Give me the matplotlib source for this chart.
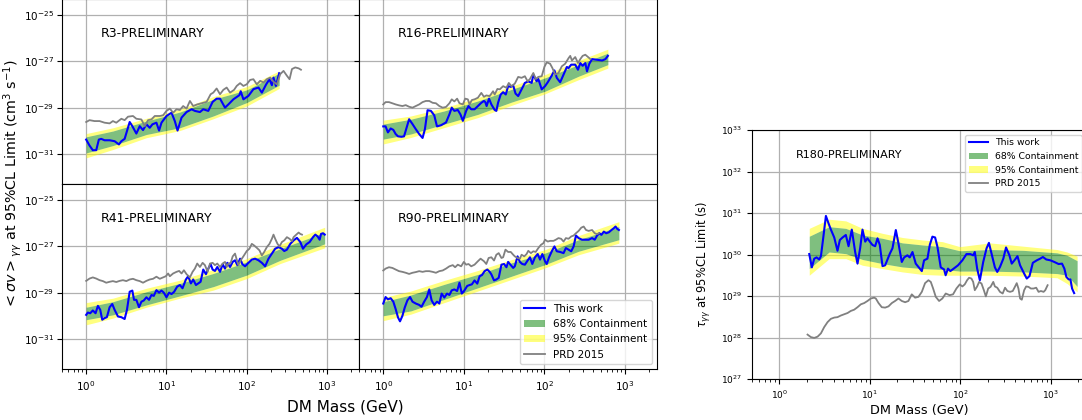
import numpy as np
import matplotlib
matplotlib.use("Agg")
import matplotlib.pyplot as plt
from matplotlib.ticker import LogLocator, NullLocator, NullFormatter

# all values are log10: mass in GeV, limit in cm^3 s^-1 (left) or s (right)

# ---- R3 ----
r3_this_logm = [0, .042, .083, .125, .158, .188, .229, .292, .354, .408, .438, .479, .542, .575, .625, .667,
                .708, .75, .792, .825, .875, .908, .938, 1.0, 1.063, 1.104, 1.138, 1.188, 1.25, 1.313, 1.354,
                1.417, 1.458, 1.521, 1.575, 1.625, 1.667, 1.729, 1.771, 1.833, 1.908, 1.925, 1.958, 2.021,
                2.083, 2.146, 2.188, 2.242, 2.283, 2.313, 2.333, 2.363, 2.404]
r3_this_logy = [-30.38, -30.64, -30.84, -30.84, -30.38, -30.35, -30.41, -30.41, -30.45, -30.59, -30.45, -30.35,
                -29.62, -29.80, -30.12, -29.80, -29.97, -29.72, -29.87, -29.72, -29.65, -29.99, -29.65, -29.36,
                -29.22, -29.58, -29.99, -29.43, -29.19, -29.07, -29.14, -29.19, -29.07, -29.14, -28.75, -28.61,
                -28.61, -29.00, -28.86, -28.64, -28.46, -28.29, -28.64, -28.49, -28.20, -28.13, -28.35, -27.99,
                -27.77, -28.03, -27.70, -28.06, -27.51]
r3_prd_logm = [0, .042, .104, .167, .229, .292, .333, .375, .438, .479, .521, .583, .625, .688, .729, .771, .813,
               .854, .917, .958, 1.0, 1.042, 1.083, 1.125, 1.167, 1.208, 1.25, 1.292, 1.333, 1.383, 1.438, 1.5,
               1.55, 1.583, 1.625, 1.667, 1.708, 1.75, 1.792, 1.842, 1.875, 1.917, 1.958, 2.0, 2.042, 2.083,
               2.125, 2.167, 2.208, 2.25, 2.292, 2.333, 2.375, 2.417, 2.458, 2.5, 2.533, 2.563, 2.604, 2.646, 2.675]
r3_prd_logy = [-29.62, -29.54, -29.58, -29.58, -29.65, -29.68, -29.58, -29.65, -29.48, -29.54, -29.39, -29.36,
               -29.48, -29.51, -29.80, -29.54, -29.51, -29.36, -29.36, -29.33, -29.14, -29.04, -29.22, -29.07,
               -29.10, -28.93, -29.04, -28.71, -28.93, -28.86, -28.81, -28.75, -28.42, -28.35, -28.17, -28.42,
               -28.23, -28.13, -28.35, -28.23, -28.06, -27.94, -28.06, -27.99, -27.80, -27.77, -27.99, -27.84,
               -27.91, -27.77, -27.70, -27.88, -27.99, -27.55, -27.41, -27.62, -27.77, -27.33, -27.26, -27.30, -27.36]
r3_band_logm = [0, .333, .75, 1.167, 1.583, 2.0, 2.404]
r3_lo68 = [-30.96, -30.64, -30.16, -29.87, -29.36, -28.78, -28.03]
r3_hi68 = [-30.26, -30.01, -29.58, -29.19, -28.64, -28.23, -27.51]
r3_lo95 = [-31.17, -30.81, -30.30, -29.99, -29.48, -28.93, -28.17]
r3_hi95 = [-30.12, -29.87, -29.46, -29.07, -28.52, -28.09, -27.41]

# ---- R16 ----
r16_this_logm = [0, .029, .058, .092, .125, .154, .183, .225, .258, .321, .363, .404, .446, .488, .517, .55, .592,
                 .633, .667, .717, .779, .821, .85, .883, .925, .958, .988, 1.029, 1.058, 1.092, 1.133, 1.175,
                 1.217, 1.25, 1.267, 1.283, 1.313, 1.342, 1.383, 1.404, 1.425, 1.458, 1.488, 1.521, 1.55, 1.583,
                 1.613, 1.642, 1.675, 1.717, 1.758, 1.8, 1.842, 1.863, 1.904, 1.925, 1.967, 2.008, 2.042, 2.092,
                 2.125, 2.154, 2.196, 2.238, 2.279, 2.3, 2.333, 2.383, 2.417, 2.446, 2.475, 2.508, 2.529, 2.558,
                 2.592, 2.654, 2.717, 2.758, 2.788]
r16_this_logy = [-29.81, -29.81, -30.07, -29.90, -29.96, -30.14, -30.24, -30.26, -30.24, -29.50, -29.71, -29.93,
                 -30.14, -30.31, -29.93, -29.11, -29.14, -29.33, -29.81, -29.76, -29.64, -29.29, -29.00, -29.14,
                 -29.10, -29.29, -29.57, -29.14, -28.93, -29.07, -29.07, -28.93, -28.79, -28.71, -28.76, -28.93,
                 -28.61, -28.86, -29.10, -29.14, -28.79, -28.43, -28.33, -28.43, -28.07, -28.10, -28.04, -28.39,
                 -28.50, -28.21, -27.93, -27.86, -27.93, -27.57, -27.86, -27.76, -28.21, -28.07, -27.90, -27.61,
                 -27.39, -27.71, -27.90, -27.57, -27.24, -27.29, -27.14, -27.14, -27.36, -27.07, -27.19, -27.07,
                 -27.43, -27.10, -26.90, -26.93, -26.96, -26.90, -26.76]
r16_prd_logm = [0, .029, .071, .113, .154, .196, .238, .279, .321, .363, .404, .446, .488, .529, .571, .613, .654,
                .696, .738, .779, .821, .85, .883, .917, .946, .988, 1.017, 1.05, 1.071, 1.1, 1.133, 1.175, 1.217,
                1.25, 1.279, 1.321, 1.363, 1.383, 1.417, 1.446, 1.488, 1.529, 1.558, 1.592, 1.633, 1.675, 1.717,
                1.758, 1.792, 1.821, 1.863, 1.892, 1.925, 1.967, 2.0, 2.029, 2.071, 2.1, 2.133, 2.175, 2.217,
                2.258, 2.3, 2.321, 2.342, 2.383, 2.417, 2.446, 2.475, 2.508, 2.542, 2.571]
r16_prd_logy = [-28.86, -28.76, -28.76, -28.81, -28.86, -28.90, -28.93, -28.89, -28.96, -29.00, -28.93, -28.86,
                -28.76, -28.71, -28.71, -28.79, -28.81, -28.93, -29.00, -28.97, -28.81, -28.64, -28.73, -28.61,
                -28.81, -28.86, -28.61, -28.64, -28.86, -28.67, -28.64, -28.57, -28.36, -28.53, -28.47, -28.50,
                -28.29, -28.43, -28.19, -28.21, -28.07, -28.14, -27.93, -28.07, -27.96, -27.67, -27.71, -27.64,
                -27.86, -27.76, -27.50, -27.76, -27.67, -27.64, -27.24, -27.04, -27.10, -27.29, -27.57, -27.50,
                -27.21, -27.10, -26.86, -26.76, -26.96, -26.81, -27.07, -26.90, -26.76, -26.71, -26.81, -26.90]
r16_band_logm = [0, .342, .758, 1.175, 1.592, 2.008, 2.425, 2.788]
r16_lo68 = [-30.36, -30.14, -29.71, -29.29, -28.76, -28.29, -27.64, -27.14]
r16_hi68 = [-29.71, -29.50, -29.14, -28.71, -28.21, -27.71, -27.14, -26.64]
r16_lo95 = [-30.57, -30.29, -29.86, -29.43, -28.90, -28.40, -27.79, -27.29]
r16_hi95 = [-29.54, -29.36, -29.00, -28.57, -28.07, -27.57, -26.96, -26.47]

# ---- R41 ----
r41_this_logm = [0, .021, .05, .083, .117, .146, .175, .2, .229, .258, .292, .325, .354, .396, .438, .479, .508,
                 .542, .575, .596, .625, .658, .688, .717, .75, .783, .813, .842, .875, .908, .938, .967, 1.0,
                 1.033, 1.063, 1.096, 1.133, 1.167, 1.2, 1.242, 1.271, 1.304, 1.333, 1.367, 1.396, 1.425, 1.458,
                 1.492, 1.521, 1.55, 1.575, 1.604, 1.633, 1.667, 1.7, 1.729, 1.758, 1.792, 1.825, 1.854, 1.883,
                 1.917, 1.946, 1.979, 2.021, 2.063, 2.104, 2.146, 2.188, 2.229, 2.271, 2.313, 2.354, 2.396, 2.438,
                 2.467, 2.5, 2.542, 2.583, 2.625, 2.667, 2.7, 2.742, 2.783, 2.825, 2.854, 2.883, 2.908, 2.925,
                 2.95, 2.971]
r41_this_logy = [-29.96, -29.86, -29.89, -29.77, -29.89, -29.57, -29.74, -30.17, -30.10, -30.06, -29.63, -29.49,
                 -29.74, -30.03, -30.06, -30.14, -29.74, -28.96, -28.91, -29.31, -29.31, -29.63, -29.39, -29.34,
                 -29.20, -29.31, -29.10, -29.14, -28.89, -29.00, -28.91, -29.00, -29.20, -29.00, -29.06, -28.96,
                 -28.74, -28.67, -28.81, -28.43, -28.29, -28.60, -28.43, -28.67, -28.60, -28.53, -28.00, -28.20,
                 -27.96, -27.77, -28.00, -28.06, -27.89, -28.10, -27.77, -27.96, -27.71, -27.89, -27.67, -27.60,
                 -27.81, -27.53, -27.77, -27.86, -27.71, -27.57, -27.53, -27.60, -27.71, -27.86, -27.53, -27.31,
                 -27.10, -27.03, -27.10, -27.20, -27.14, -26.89, -26.74, -26.63, -26.81, -27.10, -26.91, -26.81,
                 -26.60, -26.49, -26.57, -26.71, -26.46, -26.43, -26.49]
r41_prd_logm = [0, .042, .083, .125, .167, .208, .25, .292, .333, .375, .417, .458, .5, .542, .583, .625, .667,
                .708, .75, .792, .833, .875, .917, .958, .992, 1.021, 1.042, 1.083, 1.125, 1.158, 1.188, 1.217,
                1.25, 1.292, 1.325, 1.354, 1.383, 1.417, 1.45, 1.479, 1.513, 1.542, 1.575, 1.604, 1.633, 1.667,
                1.7, 1.729, 1.75, 1.771, 1.8, 1.825, 1.854, 1.875, 1.896, 1.925, 1.958, 2.0, 2.033, 2.063, 2.092,
                2.125, 2.158, 2.188, 2.217, 2.25, 2.283, 2.313, 2.333, 2.354, 2.383, 2.408, 2.438, 2.467, 2.5,
                2.533, 2.563, 2.583, 2.617, 2.646, 2.667, 2.688]
r41_prd_logy = [-28.49, -28.39, -28.34, -28.39, -28.46, -28.50, -28.57, -28.53, -28.50, -28.54, -28.49, -28.46,
                -28.50, -28.43, -28.40, -28.46, -28.50, -28.57, -28.49, -28.43, -28.40, -28.31, -28.40, -28.34,
                -28.29, -28.17, -28.29, -28.17, -28.10, -28.06, -28.17, -28.03, -28.20, -28.34, -28.10, -27.96,
                -27.74, -27.89, -27.71, -27.81, -28.10, -27.74, -27.71, -27.81, -27.74, -27.89, -27.74, -27.67,
                -27.89, -27.74, -27.71, -27.43, -27.31, -27.57, -27.81, -27.60, -27.43, -27.20, -27.10, -26.89,
                -26.96, -27.06, -27.17, -27.39, -27.24, -27.03, -26.89, -26.67, -26.49, -26.67, -26.89, -27.00,
                -26.81, -26.74, -26.60, -26.67, -26.77, -26.60, -26.49, -26.40, -26.46, -26.49]
r41_band_logm = [0, .333, .75, 1.167, 1.583, 2.0, 2.417, 2.971]
r41_lo68 = [-30.17, -29.96, -29.53, -29.14, -28.74, -28.24, -27.60, -26.89]
r41_hi68 = [-29.63, -29.39, -28.96, -28.60, -28.17, -27.67, -27.10, -26.39]
r41_lo95 = [-30.39, -30.10, -29.63, -29.24, -28.89, -28.39, -27.74, -27.06]
r41_hi95 = [-29.43, -29.24, -28.81, -28.46, -28.00, -27.53, -26.91, -26.17]

# ---- R90 ----
r90_this_logm = [0, .029, .058, .092, .125, .154, .183, .208, .238, .267, .3, .333, .363, .404, .446, .475, .508,
                 .542, .571, .6, .633, .667, .696, .725, .758, .792, .821, .85, .883, .917, .946, .975, 1.008,
                 1.042, 1.071, 1.1, 1.133, 1.167, 1.196, 1.225, 1.258, 1.292, 1.321, 1.342, 1.375, 1.404, 1.433,
                 1.467, 1.5, 1.529, 1.55, 1.583, 1.613, 1.633, 1.667, 1.696, 1.725, 1.758, 1.792, 1.821, 1.85,
                 1.883, 1.917, 1.946, 1.975, 2.008, 2.029, 2.058, 2.092, 2.125, 2.154, 2.196, 2.238, 2.267, 2.3,
                 2.333, 2.363, 2.392, 2.425, 2.467, 2.508, 2.55, 2.592, 2.625, 2.654, 2.683, 2.708, 2.738, 2.767,
                 2.8, 2.833, 2.863, 2.883, 2.904, 2.925]
r90_this_logy = [-29.47, -29.19, -29.29, -29.24, -29.39, -29.71, -30.07, -30.24, -30.00, -29.64, -29.33, -29.19,
                 -29.39, -29.47, -29.53, -29.61, -29.39, -29.19, -28.86, -29.33, -29.53, -29.39, -29.47, -29.04,
                 -29.21, -29.04, -29.10, -28.90, -28.86, -28.93, -28.57, -29.04, -28.90, -28.71, -28.67, -28.64,
                 -28.47, -28.61, -28.29, -28.24, -28.07, -28.00, -28.10, -28.21, -28.47, -28.43, -28.36, -27.79,
                 -27.76, -27.90, -27.67, -27.81, -27.93, -27.86, -27.43, -27.67, -27.76, -27.79, -27.61, -27.47,
                 -27.76, -27.47, -27.33, -27.57, -27.33, -27.64, -27.76, -27.47, -27.21, -27.00, -27.21, -27.24,
                 -27.29, -27.07, -27.14, -27.21, -27.00, -26.53, -26.64, -26.71, -26.71, -26.71, -26.64, -26.71,
                 -26.53, -26.43, -26.50, -26.36, -26.43, -26.39, -26.29, -26.21, -26.14, -26.24, -26.29]
r90_prd_logm = [0, .029, .071, .113, .154, .196, .238, .279, .321, .363, .404, .446, .488, .529, .571, .613, .654,
                .696, .738, .779, .821, .863, .892, .925, .967, 1.0, 1.029, 1.058, 1.092, 1.133, 1.175, 1.208,
                1.25, 1.279, 1.308, 1.342, 1.375, 1.404, 1.433, 1.467, 1.488, 1.517, 1.55, 1.583, 1.613, 1.633,
                1.667, 1.696, 1.717, 1.75, 1.779, 1.8, 1.833, 1.863, 1.892, 1.925, 1.958, 1.988, 2.008, 2.042,
                2.071, 2.113, 2.142, 2.175, 2.208, 2.238, 2.267, 2.3, 2.333, 2.363, 2.392, 2.425, 2.458, 2.488,
                2.517, 2.55, 2.592, 2.625, 2.654, 2.675]
r90_prd_logy = [-28.04, -27.96, -27.90, -27.93, -28.00, -28.07, -28.10, -28.14, -28.19, -28.14, -28.11, -28.07,
                -28.10, -28.07, -28.07, -28.10, -28.14, -28.07, -28.04, -27.96, -27.86, -27.81, -27.90, -27.79,
                -27.86, -27.67, -27.79, -27.76, -27.86, -27.79, -27.64, -27.53, -27.64, -27.76, -27.50, -27.47,
                -27.61, -27.36, -27.29, -27.50, -27.47, -27.14, -27.24, -27.24, -27.36, -27.43, -27.50, -27.53,
                -27.36, -27.43, -27.33, -27.19, -27.29, -27.21, -27.24, -27.07, -26.93, -26.86, -26.71, -26.79,
                -26.76, -26.76, -26.71, -26.64, -26.67, -26.79, -26.64, -26.67, -26.57, -26.53, -26.43, -26.33,
                -26.19, -26.14, -26.29, -26.33, -26.29, -26.43, -26.47, -26.43]
r90_band_logm = [0, .342, .758, 1.175, 1.592, 2.008, 2.425, 2.925]
r90_lo68 = [-30.00, -29.79, -29.29, -28.79, -28.29, -27.79, -27.21, -26.71]
r90_hi68 = [-29.39, -29.10, -28.64, -28.21, -27.71, -27.29, -26.71, -26.14]
r90_lo95 = [-30.21, -29.93, -29.43, -28.93, -28.43, -27.93, -27.36, -26.86]
r90_hi95 = [-29.21, -28.93, -28.47, -28.04, -27.57, -27.14, -26.53, -25.93]

# ---- R180 (lifetime, s) ----
r180_this_logm = [.331, .360, .386, .412, .441, .460, .485, .515, .544, .570, .607, .643, .669, .699, .735, .765,
                  .801, .838, .864, .893, .919, .949, .974, 1.0, 1.029, 1.059, 1.085, 1.110, 1.140, 1.169, 1.195,
                  1.221, 1.250, 1.287, 1.316, 1.353, 1.379, 1.415, 1.441, 1.471, 1.507, 1.537, 1.574, 1.599,
                  1.636, 1.662, 1.691, 1.721, 1.746, 1.783, 1.820, 1.837, 1.863, 1.889, 1.926, 1.974, 2.022,
                  2.067, 2.111, 2.141, 2.159, 2.185, 2.215, 2.252, 2.289, 2.315, 2.344, 2.381, 2.407, 2.437,
                  2.474, 2.504, 2.541, 2.567, 2.604, 2.630, 2.659, 2.704, 2.733, 2.763, 2.800, 2.844, 2.881,
                  2.911, 2.948, 2.993, 3.037, 3.085, 3.122, 3.148, 3.170, 3.196, 3.215, 3.233, 3.256]
r180_this_logy = [30.01, 29.69, 29.90, 29.93, 29.88, 29.96, 30.39, 30.93, 30.75, 30.60, 30.41, 30.09, 30.35, 30.41,
                  30.47, 30.20, 30.60, 30.06, 29.78, 30.15, 30.60, 30.31, 30.39, 30.31, 30.23, 30.20, 30.39, 30.23,
                  29.72, 29.74, 29.88, 30.02, 30.15, 30.59, 30.27, 29.82, 29.93, 29.98, 29.93, 30.06, 29.78, 29.70,
                  29.60, 29.86, 29.90, 30.23, 30.43, 30.41, 30.19, 29.69, 29.64, 29.50, 29.66, 29.60, 29.66, 29.74,
                  29.86, 30.01, 30.01, 29.98, 30.06, 29.66, 29.38, 29.82, 30.15, 30.28, 30.02, 29.69, 29.58, 29.70,
                  29.90, 30.17, 29.98, 29.78, 29.88, 29.96, 29.74, 29.54, 29.42, 29.48, 29.80, 29.86, 29.90, 29.94,
                  29.88, 29.86, 29.82, 29.77, 29.78, 29.66, 29.46, 29.40, 29.40, 29.18, 29.07]
r180_prd_logm = [.312, .349, .386, .423, .460, .496, .533, .570, .607, .643, .680, .717, .754, .790, .827, .864,
                 .901, .938, .974, 1.011, 1.048, 1.066, 1.096, 1.132, 1.169, 1.206, 1.243, 1.279, 1.316, 1.353,
                 1.390, 1.426, 1.463, 1.500, 1.537, 1.574, 1.610, 1.647, 1.673, 1.699, 1.728, 1.765, 1.801, 1.838,
                 1.881, 1.919, 1.956, 1.993, 2.022, 2.048, 2.074, 2.096, 2.122, 2.141, 2.159, 2.185, 2.207, 2.233,
                 2.259, 2.281, 2.307, 2.333, 2.363, 2.381, 2.407, 2.437, 2.467, 2.493, 2.519, 2.548, 2.578, 2.604,
                 2.622, 2.641, 2.659, 2.678, 2.704, 2.726, 2.752, 2.778, 2.807, 2.837, 2.863, 2.889, 2.919, 2.937,
                 2.963]
r180_prd_logy = [28.07, 28.01, 27.99, 28.02, 28.10, 28.25, 28.37, 28.45, 28.48, 28.49, 28.53, 28.56, 28.59, 28.64,
                 28.67, 28.73, 28.80, 28.83, 28.88, 28.94, 28.96, 28.94, 28.83, 28.73, 28.72, 28.75, 28.83, 28.88,
                 28.94, 28.88, 28.85, 28.88, 29.04, 28.96, 28.98, 29.10, 29.31, 29.38, 29.34, 29.18, 28.98, 28.88,
                 28.94, 29.06, 29.02, 29.04, 29.18, 29.28, 29.23, 29.28, 29.38, 29.44, 29.42, 29.34, 29.14, 29.23,
                 29.34, 29.30, 29.14, 28.99, 29.18, 29.22, 29.34, 29.23, 29.20, 29.10, 29.06, 29.20, 29.12, 29.10,
                 29.12, 29.23, 29.31, 29.18, 28.94, 28.91, 29.14, 29.23, 29.22, 29.18, 29.18, 29.20, 29.10, 29.12,
                 29.10, 29.14, 29.26]
r180_band_logm = [.331, .551, .735, .919, 1.140, 1.360, 1.581, 1.801, 1.993, 2.326, 2.696, 3.067, 3.178, 3.289]
r180_lo68 = [29.66, 30.06, 30.02, 29.88, 29.78, 29.70, 29.66, 29.64, 29.60, 29.60, 29.58, 29.54, 29.50, 29.23]
r180_hi68 = [30.44, 30.67, 30.63, 30.47, 30.39, 30.28, 30.23, 30.19, 30.09, 30.12, 30.10, 30.04, 29.98, 29.85]
r180_lo95 = [29.50, 29.90, 29.90, 29.74, 29.66, 29.58, 29.52, 29.50, 29.50, 29.50, 29.48, 29.44, 29.30, 29.10]
r180_hi95 = [30.63, 30.85, 30.81, 30.63, 30.51, 30.41, 30.35, 30.31, 30.19, 30.28, 30.20, 30.12, 30.06, 29.96]


def p10(v):
    return 10.0 ** np.asarray(v, dtype=float)


def draw(ax, this_m, this_y, prd_m, prd_y, band_m, lo68, hi68, lo95, hi95):
    bm = p10(band_m)
    # yellow only outside the green band, so the green stays clean
    h95 = ax.fill_between(bm, p10(lo95), p10(lo68), color="yellow", alpha=0.5, lw=0)
    ax.fill_between(bm, p10(hi68), p10(hi95), color="yellow", alpha=0.5, lw=0)
    h68 = ax.fill_between(bm, p10(lo68), p10(hi68), color="green", alpha=0.5, lw=0)
    hthis, = ax.plot(p10(this_m), p10(this_y), color="blue", lw=1.5)
    hprd, = ax.plot(p10(prd_m), p10(prd_y), color="gray", lw=1.3)
    ax.set_xscale("log")
    ax.set_yscale("log")
    ax.set_xlim(0.5, 2500)
    ax.set_xticks([1, 10, 100, 1000])
    ax.xaxis.set_minor_locator(LogLocator(base=10, subs=np.arange(2, 10)))
    ax.xaxis.set_minor_formatter(NullFormatter())
    ax.yaxis.set_minor_locator(NullLocator())
    ax.grid(True, color="#b0b0b0", lw=0.9)
    ax.set_axisbelow(True)
    return [hthis, h68, h95, hprd]


labels = ["This work", "68% Containment", "95% Containment", "PRD 2015"]

fig = plt.figure(figsize=(10.82, 4.2), dpi=100)

W, H = 1082.0, 420.0
left_cols = [(62, 359), (359, 657)]
rows = [(-1, 184), (184, 369)]

panels = [
    ("R3-PRELIMINARY", r3_this_logm, r3_this_logy, r3_prd_logm, r3_prd_logy,
     r3_band_logm, r3_lo68, r3_hi68, r3_lo95, r3_hi95),
    ("R16-PRELIMINARY", r16_this_logm, r16_this_logy, r16_prd_logm, r16_prd_logy,
     r16_band_logm, r16_lo68, r16_hi68, r16_lo95, r16_hi95),
    ("R41-PRELIMINARY", r41_this_logm, r41_this_logy, r41_prd_logm, r41_prd_logy,
     r41_band_logm, r41_lo68, r41_hi68, r41_lo95, r41_hi95),
    ("R90-PRELIMINARY", r90_this_logm, r90_this_logy, r90_prd_logm, r90_prd_logy,
     r90_band_logm, r90_lo68, r90_hi68, r90_lo95, r90_hi95),
]

for i, p in enumerate(panels):
    r, c = divmod(i, 2)
    x0, x1 = left_cols[c]
    y0, y1 = rows[r]
    ax = fig.add_axes([x0 / W, (H - y1) / H, (x1 - x0) / W, (y1 - y0) / H])
    handles = draw(ax, *p[1:])
    ax.set_ylim(5e-33, 5e-25)
    ax.set_yticks([1e-31, 1e-29, 1e-27, 1e-25])
    ax.yaxis.set_minor_locator(NullLocator())
    ax.tick_params(labelsize=7.5, labelbottom=(r == 1), labelleft=(c == 0))
    ax.tick_params(axis="y", pad=2)
    ax.text(0.13, 0.815, p[0], transform=ax.transAxes, fontsize=9, va="center")
    if i == 3:
        ax.legend(handles, labels, loc="lower right", fontsize=7.5)

fig.text(345 / W, (H - 407) / H, "DM Mass (GeV)", fontsize=11, ha="center", va="center")
fig.text(13 / W, (H - 184) / H,
         r"$<\sigma v>_{\gamma\gamma}$ at 95%CL Limit (cm$^3$ s$^{-1}$)",
         fontsize=10.3, rotation=90, ha="center", va="center")

# right panel
axr = fig.add_axes([752 / W, (H - 379) / H, 335 / W, 249 / H])
handles = draw(axr, r180_this_logm, r180_this_logy, r180_prd_logm, r180_prd_logy,
               r180_band_logm, r180_lo68, r180_hi68, r180_lo95, r180_hi95)
axr.set_ylim(1e27, 1e33)
axr.set_yticks([1e27, 1e28, 1e29, 1e30, 1e31, 1e32, 1e33])
axr.yaxis.set_minor_locator(NullLocator())
axr.tick_params(labelsize=6.5)
axr.text(0.131, 0.90, "R180-PRELIMINARY", transform=axr.transAxes, fontsize=8, va="center")
axr.legend(handles, labels, loc="upper right", fontsize=6.7)
axr.set_xlabel("DM Mass (GeV)", fontsize=9.3, labelpad=2)
axr.set_ylabel(r"$\tau_{\gamma\gamma}$ at 95%CL Limit (s)", fontsize=8.3)
axr.yaxis.set_label_coords(-0.115, 0.46)

fig.savefig("out.png", dpi=100)
